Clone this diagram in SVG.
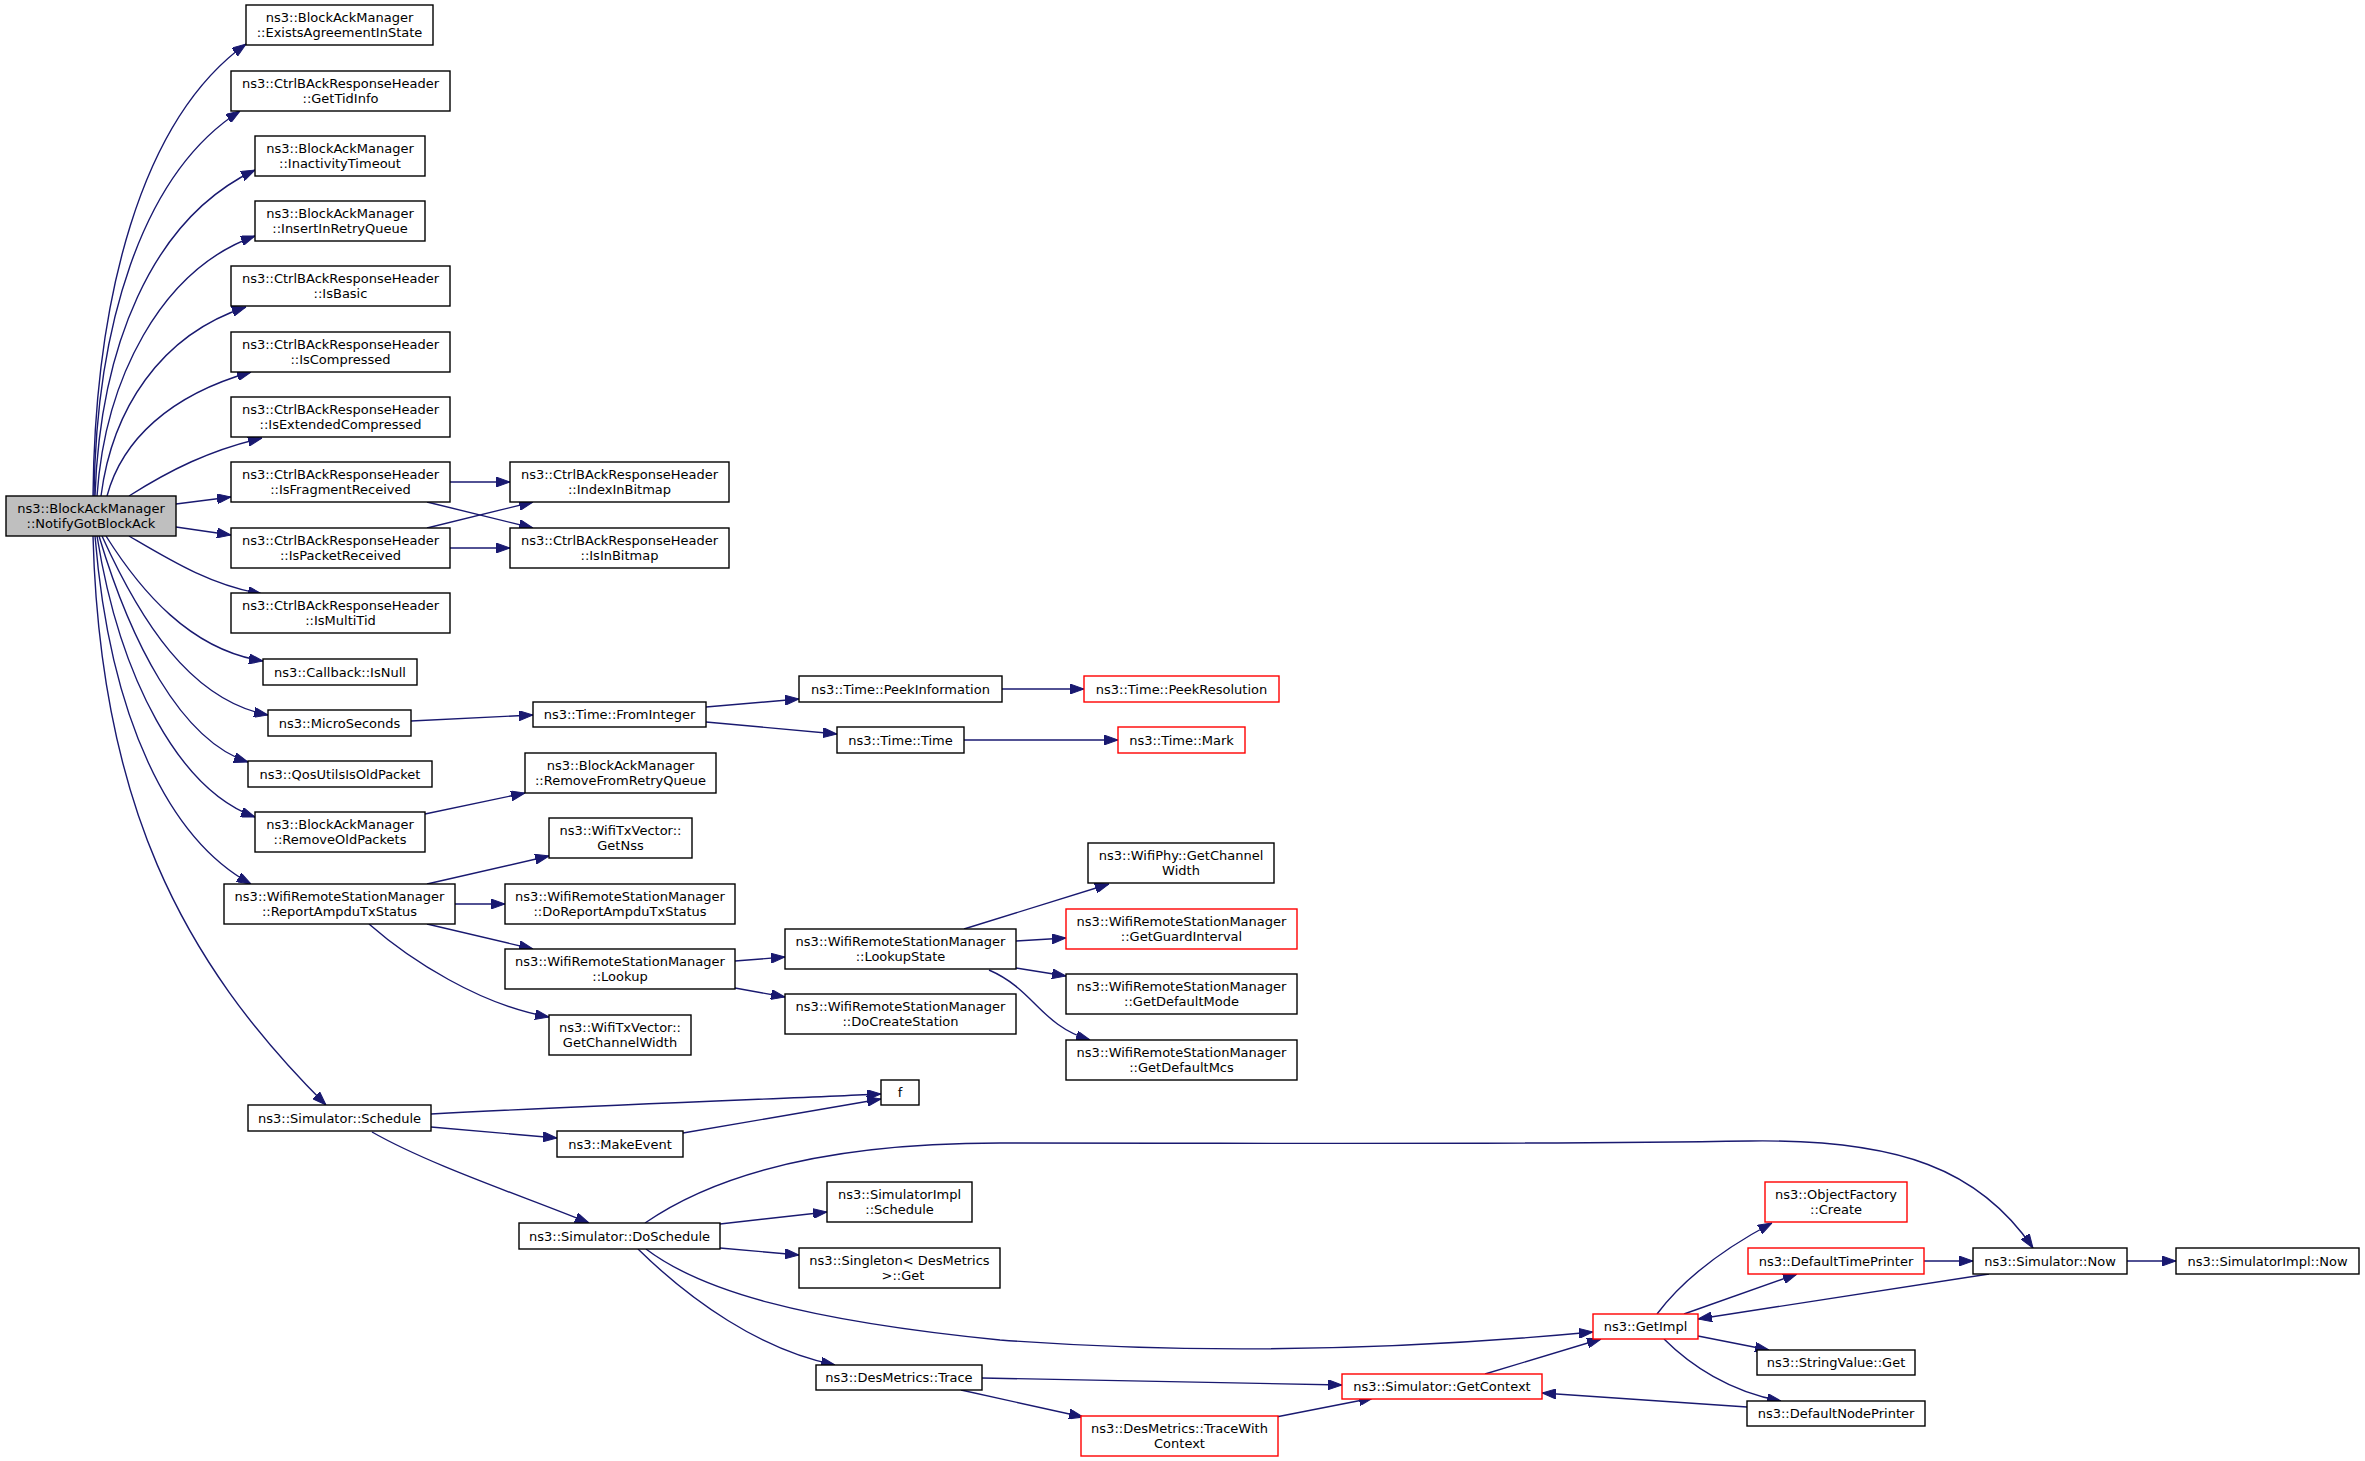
<svg xmlns="http://www.w3.org/2000/svg" width="2365" height="1461" viewBox="0 0 2365 1461">
<defs>
<marker id="ah" viewBox="0 0 14 10" refX="14" refY="5" markerWidth="14" markerHeight="10" markerUnits="userSpaceOnUse" orient="auto">
<path d="M0,0 L14,5 L0,10 z" fill="#191970" stroke="#191970" stroke-width="1"/>
</marker>
</defs>
<style>
rect{fill:#ffffff;stroke:#000000;stroke-width:1.4}
.red rect{stroke:#ff0000}
.main rect{fill:#bfbfbf}
text{font-family:"DejaVu Sans","Liberation Sans",sans-serif;font-size:13px;text-anchor:middle;fill:#000000}
#edges path{fill:none;stroke:#191970;stroke-width:1.4;marker-end:url(#ah)}
</style>
<rect x="0" y="0" width="2365" height="1461" style="fill:#ffffff;stroke:none"/>
<g id="edges">
<path d="M93,496 C95,300 140,120 246,44"/>
<path d="M94,496 C96,330 140,175 240,111"/>
<path d="M95,496 C100,350 150,220 255,170"/>
<path d="M97,496 C105,380 160,270 255,236"/>
<path d="M101,496 C112,410 160,335 246,307"/>
<path d="M107,496 C122,440 170,395 251,372"/>
<path d="M129,496 C170,470 210,450 262,438"/>
<path d="M176,504 L231,497"/>
<path d="M176,527 L231,535"/>
<path d="M129,536 C170,560 210,585 262,594"/>
<path d="M106,536 C140,590 190,650 263,661"/>
<path d="M102,536 C140,620 190,700 268,715"/>
<path d="M99,536 C130,640 180,740 248,762"/>
<path d="M97,536 C120,680 180,790 255,817"/>
<path d="M95,536 C110,720 170,840 251,884"/>
<path d="M93,536 C100,800 180,960 326,1105"/>
<path d="M450,482 L510,482"/>
<path d="M427,502 L533,528"/>
<path d="M427,528 L533,502"/>
<path d="M450,548 L510,548"/>
<path d="M411,721 L533,715"/>
<path d="M706,707 L799,699"/>
<path d="M706,722 L837,734"/>
<path d="M1002,689 L1084,689"/>
<path d="M964,740 L1118,740"/>
<path d="M425,814 L525,793"/>
<path d="M427,884 L549,856"/>
<path d="M455,904 L505,904"/>
<path d="M427,924 L533,949"/>
<path d="M369,924 C410,960 480,1005 549,1017"/>
<path d="M735,961 L785,957"/>
<path d="M735,988 L785,997"/>
<path d="M964,929 L1109,884"/>
<path d="M1016,941 L1066,938"/>
<path d="M1016,968 L1066,976"/>
<path d="M989,970 C1035,990 1040,1025 1090,1040"/>
<path d="M431,1114 C600,1105 800,1098 881,1094"/>
<path d="M431,1127 L557,1138"/>
<path d="M683,1133 L881,1099"/>
<path d="M372,1132 C430,1165 520,1195 589,1223"/>
<path d="M720,1224 L827,1212"/>
<path d="M720,1248 L799,1255"/>
<path d="M645,1223 C700,1185 800,1143 1000,1143 C1300,1143 1500,1145 1750,1141 C1900,1139 1980,1170 2033,1248"/>
<path d="M646,1249 C700,1290 800,1320 1000,1340 C1200,1355 1400,1350 1593,1332"/>
<path d="M638,1249 C690,1300 760,1350 835,1365"/>
<path d="M982,1378 L1342,1385"/>
<path d="M961,1390 L1083,1417"/>
<path d="M1276,1417 L1373,1398"/>
<path d="M1485,1374 L1601,1339"/>
<path d="M1747,1407 L1542,1393"/>
<path d="M1657,1314 C1690,1270 1740,1240 1772,1223"/>
<path d="M1684,1314 L1797,1274"/>
<path d="M1989,1274 L1698,1319"/>
<path d="M1924,1261 L1973,1261"/>
<path d="M2127,1261 L2176,1261"/>
<path d="M1698,1336 L1769,1350"/>
<path d="M1664,1339 C1690,1365 1730,1392 1781,1401"/>
</g>
<g id="n0" class="main"><rect x="6" y="496" width="170" height="40"/><text x="91" y="513">ns3::BlockAckManager</text><text x="91" y="527.5">::NotifyGotBlockAck</text></g>
<g id="n1"><rect x="246" y="5" width="187" height="40"/><text x="339.5" y="22">ns3::BlockAckManager</text><text x="339.5" y="36.5">::ExistsAgreementInState</text></g>
<g id="n2"><rect x="231" y="71" width="219" height="40"/><text x="340.5" y="88">ns3::CtrlBAckResponseHeader</text><text x="340.5" y="102.5">::GetTidInfo</text></g>
<g id="n3"><rect x="255" y="136" width="170" height="40"/><text x="340" y="153">ns3::BlockAckManager</text><text x="340" y="167.5">::InactivityTimeout</text></g>
<g id="n4"><rect x="255" y="201" width="170" height="40"/><text x="340" y="218">ns3::BlockAckManager</text><text x="340" y="232.5">::InsertInRetryQueue</text></g>
<g id="n5"><rect x="231" y="266" width="219" height="40"/><text x="340.5" y="283">ns3::CtrlBAckResponseHeader</text><text x="340.5" y="297.5">::IsBasic</text></g>
<g id="n6"><rect x="231" y="332" width="219" height="40"/><text x="340.5" y="349">ns3::CtrlBAckResponseHeader</text><text x="340.5" y="363.5">::IsCompressed</text></g>
<g id="n7"><rect x="231" y="397" width="219" height="40"/><text x="340.5" y="414">ns3::CtrlBAckResponseHeader</text><text x="340.5" y="428.5">::IsExtendedCompressed</text></g>
<g id="n8"><rect x="231" y="462" width="219" height="40"/><text x="340.5" y="479">ns3::CtrlBAckResponseHeader</text><text x="340.5" y="493.5">::IsFragmentReceived</text></g>
<g id="n9"><rect x="231" y="528" width="219" height="40"/><text x="340.5" y="545">ns3::CtrlBAckResponseHeader</text><text x="340.5" y="559.5">::IsPacketReceived</text></g>
<g id="n10"><rect x="231" y="593" width="219" height="40"/><text x="340.5" y="610">ns3::CtrlBAckResponseHeader</text><text x="340.5" y="624.5">::IsMultiTid</text></g>
<g id="n11"><rect x="263" y="659" width="154" height="26"/><text x="340" y="676.5">ns3::Callback::IsNull</text></g>
<g id="n12"><rect x="268" y="710" width="143" height="26"/><text x="339.5" y="727.5">ns3::MicroSeconds</text></g>
<g id="n13"><rect x="248" y="761" width="184" height="26"/><text x="340" y="778.5">ns3::QosUtilsIsOldPacket</text></g>
<g id="n14"><rect x="255" y="812" width="170" height="40"/><text x="340" y="829">ns3::BlockAckManager</text><text x="340" y="843.5">::RemoveOldPackets</text></g>
<g id="n15"><rect x="224" y="884" width="231" height="40"/><text x="339.5" y="901">ns3::WifiRemoteStationManager</text><text x="339.5" y="915.5">::ReportAmpduTxStatus</text></g>
<g id="n16"><rect x="248" y="1105" width="183" height="26"/><text x="339.5" y="1122.5">ns3::Simulator::Schedule</text></g>
<g id="n17"><rect x="510" y="462" width="219" height="40"/><text x="619.5" y="479">ns3::CtrlBAckResponseHeader</text><text x="619.5" y="493.5">::IndexInBitmap</text></g>
<g id="n18"><rect x="510" y="528" width="219" height="40"/><text x="619.5" y="545">ns3::CtrlBAckResponseHeader</text><text x="619.5" y="559.5">::IsInBitmap</text></g>
<g id="n19"><rect x="533" y="702" width="173" height="25"/><text x="619.5" y="719">ns3::Time::FromInteger</text></g>
<g id="n20"><rect x="525" y="753" width="191" height="40"/><text x="620.5" y="770">ns3::BlockAckManager</text><text x="620.5" y="784.5">::RemoveFromRetryQueue</text></g>
<g id="n21"><rect x="549" y="818" width="143" height="40"/><text x="620.5" y="835">ns3::WifiTxVector::</text><text x="620.5" y="849.5">GetNss</text></g>
<g id="n22"><rect x="505" y="884" width="230" height="40"/><text x="620" y="901">ns3::WifiRemoteStationManager</text><text x="620" y="915.5">::DoReportAmpduTxStatus</text></g>
<g id="n23"><rect x="505" y="949" width="230" height="40"/><text x="620" y="966">ns3::WifiRemoteStationManager</text><text x="620" y="980.5">::Lookup</text></g>
<g id="n24"><rect x="549" y="1015" width="142" height="40"/><text x="620" y="1032">ns3::WifiTxVector::</text><text x="620" y="1046.5">GetChannelWidth</text></g>
<g id="n25"><rect x="557" y="1131" width="126" height="26"/><text x="620" y="1148.5">ns3::MakeEvent</text></g>
<g id="n26"><rect x="519" y="1223" width="201" height="26"/><text x="619.5" y="1240.5">ns3::Simulator::DoSchedule</text></g>
<g id="n27"><rect x="799" y="676" width="203" height="26"/><text x="900.5" y="693.5">ns3::Time::PeekInformation</text></g>
<g id="n28"><rect x="837" y="727" width="127" height="26"/><text x="900.5" y="744.5">ns3::Time::Time</text></g>
<g id="n29"><rect x="785" y="929" width="231" height="40"/><text x="900.5" y="946">ns3::WifiRemoteStationManager</text><text x="900.5" y="960.5">::LookupState</text></g>
<g id="n30"><rect x="785" y="994" width="231" height="40"/><text x="900.5" y="1011">ns3::WifiRemoteStationManager</text><text x="900.5" y="1025.5">::DoCreateStation</text></g>
<g id="n31"><rect x="881" y="1080" width="38" height="25"/><text x="900" y="1097">f</text></g>
<g id="n32"><rect x="827" y="1182" width="145" height="40"/><text x="899.5" y="1199">ns3::SimulatorImpl</text><text x="899.5" y="1213.5">::Schedule</text></g>
<g id="n33"><rect x="799" y="1248" width="201" height="40"/><text x="899.5" y="1265">ns3::Singleton&lt; DesMetrics</text><text x="903" y="1279.5">&gt;::Get</text></g>
<g id="n34"><rect x="816" y="1365" width="166" height="25"/><text x="899" y="1382">ns3::DesMetrics::Trace</text></g>
<g id="n35" class="red"><rect x="1084" y="676" width="195" height="26"/><text x="1181.5" y="693.5">ns3::Time::PeekResolution</text></g>
<g id="n36" class="red"><rect x="1118" y="727" width="127" height="26"/><text x="1181.5" y="744.5">ns3::Time::Mark</text></g>
<g id="n37"><rect x="1088" y="843" width="186" height="40"/><text x="1181" y="860">ns3::WifiPhy::GetChannel</text><text x="1181" y="874.5">Width</text></g>
<g id="n38" class="red"><rect x="1066" y="909" width="231" height="40"/><text x="1181.5" y="926">ns3::WifiRemoteStationManager</text><text x="1181.5" y="940.5">::GetGuardInterval</text></g>
<g id="n39"><rect x="1066" y="974" width="231" height="40"/><text x="1181.5" y="991">ns3::WifiRemoteStationManager</text><text x="1181.5" y="1005.5">::GetDefaultMode</text></g>
<g id="n40"><rect x="1066" y="1040" width="231" height="40"/><text x="1181.5" y="1057">ns3::WifiRemoteStationManager</text><text x="1181.5" y="1071.5">::GetDefaultMcs</text></g>
<g id="n41" class="red"><rect x="1081" y="1416" width="197" height="40"/><text x="1179.5" y="1433">ns3::DesMetrics::TraceWith</text><text x="1179.5" y="1447.5">Context</text></g>
<g id="n42" class="red"><rect x="1342" y="1374" width="200" height="25"/><text x="1442" y="1391">ns3::Simulator::GetContext</text></g>
<g id="n43" class="red"><rect x="1593" y="1314" width="105" height="25"/><text x="1645.5" y="1331">ns3::GetImpl</text></g>
<g id="n44" class="red"><rect x="1765" y="1182" width="142" height="40"/><text x="1836" y="1199">ns3::ObjectFactory</text><text x="1836" y="1213.5">::Create</text></g>
<g id="n45" class="red"><rect x="1748" y="1248" width="176" height="26"/><text x="1836" y="1265.5">ns3::DefaultTimePrinter</text></g>
<g id="n46"><rect x="1757" y="1350" width="158" height="25"/><text x="1836" y="1367">ns3::StringValue::Get</text></g>
<g id="n47"><rect x="1747" y="1401" width="178" height="25"/><text x="1836" y="1418">ns3::DefaultNodePrinter</text></g>
<g id="n48"><rect x="1973" y="1248" width="154" height="26"/><text x="2050" y="1265.5">ns3::Simulator::Now</text></g>
<g id="n49"><rect x="2176" y="1248" width="183" height="26"/><text x="2267.5" y="1265.5">ns3::SimulatorImpl::Now</text></g>
</svg>
